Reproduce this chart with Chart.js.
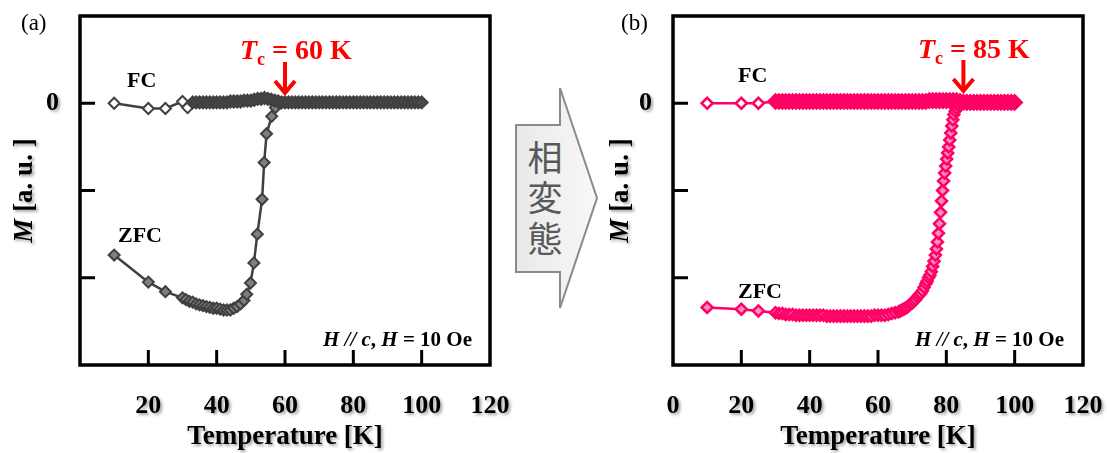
<!DOCTYPE html>
<html>
<head>
<meta charset="utf-8">
<script src="https://cdn.jsdelivr.net/npm/chart.js@4.4.1/dist/chart.umd.min.js"></script>
<style>
  html, body { margin: 0; padding: 0; background: #fff; }
  #wrap { position: relative; width: 1107px; height: 453px; overflow: hidden; background: #fff; }
  #wrap canvas { position: absolute; top: 0; }
  #ca { left: 0; }
  #cb { left: 553px; }
  #mid { position: absolute; left: 0; top: 0; }
</style>
</head>
<body>
<div id="wrap">
  <svg id="mid" width="1107" height="453" xmlns="http://www.w3.org/2000/svg">
    <defs>
      <linearGradient id="arrowFill" x1="0" y1="0" x2="1" y2="0">
        <stop offset="0" stop-color="#e9e9e9"/>
        <stop offset="1" stop-color="#f8f8f8"/>
      </linearGradient>
    </defs>
    <polygon points="516,125 560,125 560,88 597,198 560,308 560,272 516,272"
             fill="url(#arrowFill)" stroke="#8a8a8a" stroke-width="2"/>
    <g font-family="'Noto Sans CJK JP', 'Noto Sans CJK SC', sans-serif" font-size="35" fill="#595959"
       text-anchor="middle" dominant-baseline="central">
      <text x="545" y="155">相</text>
      <text x="545" y="195">変</text>
      <text x="545" y="236">態</text>
    </g>
  </svg>
  <canvas id="ca" width="553" height="453"></canvas>
  <canvas id="cb" width="554" height="453"></canvas>
</div>
<script>
// ---- Panel (a): temperatures [K] and magnetisation [a. u.] ----
const tempFcA = [10, 20, 25, 30, 31.5, 33, 34, 35, 36, 37, 38, 39, 40, 41, 42, 43, 44, 45, 46, 47,
  48, 49, 50, 51, 52, 53, 54, 55, 56, 57, 58, 59, 60, 61, 62, 63, 64, 65, 66, 67, 68, 69, 70,
  71, 72, 73, 74, 75, 76, 77, 78, 79, 80, 81, 82, 83, 84, 85, 86, 87, 88, 89, 90, 91, 92, 93,
  94, 95, 96, 97, 98, 99, 100];
const magFcA = [0.00, -0.06, -0.06, 0.02, -0.05, 0.01, 0.01, 0.01, 0.01, 0.01, 0.01, 0.01, 0.01, 0.01, 0.01, 0.01, 0.02, 0.02, 0.02, 0.02,
  0.03, 0.03, 0.03, 0.04, 0.05, 0.05, 0.06, 0.05, 0.04, 0.03, 0.02, 0.01, 0.01, 0.01, 0.01, 0.01, 0.01, 0.01, 0.01, 0.01, 0.01, 0.01, 0.01,
  0.01, 0.01, 0.01, 0.01, 0.01, 0.01, 0.01, 0.01, 0.01, 0.01, 0.01, 0.01, 0.01, 0.01, 0.01, 0.01, 0.01, 0.01, 0.01, 0.01, 0.01, 0.01, 0.01,
  0.01, 0.01, 0.01, 0.01, 0.01, 0.01, 0.01];
const tempZfcA = [10, 20, 25, 30, 31, 32, 33, 34, 35, 36, 37, 38, 39, 40, 41, 42, 43, 44, 45, 46, 47, 48,
  48.8, 49.9, 50.9, 51.9, 53.3, 53.9, 54.6, 56.1, 57.2, 58.5, 60];
const magZfcA = [-1.74, -2.05, -2.16, -2.23, -2.25, -2.27, -2.28, -2.30, -2.31, -2.32, -2.33, -2.34, -2.35, -2.35, -2.36, -2.37, -2.37, -2.37, -2.35, -2.33, -2.30, -2.26,
  -2.19, -2.06, -1.83, -1.50, -1.10, -0.68, -0.35, -0.15, -0.05, 0.00, 0.01];
const hollowFcA = 5;      // first FC points drawn with open markers
const tcA = 60;

// ---- Panel (b) ----
const tempFcB = [10, 20, 25, 30, 31, 32, 33, 34, 35, 36, 37, 38, 39, 40, 41, 42, 43, 44, 45, 46, 47, 48, 49, 50,
  51, 52, 53, 54, 55, 56, 57, 58, 59, 60, 61, 62, 63, 64, 65, 66, 67, 68, 69, 70, 71, 72, 73, 74, 75,
  76, 77, 78, 79, 80, 81, 82, 83, 84, 85, 86, 87, 88, 89, 90, 91, 92, 93, 94, 95, 96, 97, 98, 99, 100];
const magFcB = [0.00, 0.00, 0.00, 0.02, 0.02, 0.02, 0.02, 0.02, 0.02, 0.02, 0.02, 0.02, 0.02, 0.02, 0.02, 0.02, 0.02, 0.02, 0.02, 0.02, 0.02, 0.02, 0.02, 0.02,
  0.02, 0.02, 0.02, 0.02, 0.02, 0.02, 0.02, 0.02, 0.02, 0.02, 0.02, 0.02, 0.02, 0.02, 0.02, 0.02, 0.02, 0.02, 0.02, 0.02, 0.02, 0.02, 0.02, 0.02, 0.03,
  0.03, 0.03, 0.03, 0.03, 0.03, 0.03, 0.03, 0.03, 0.02, 0.01, 0.01, 0.01, 0.01, 0.01, 0.01, 0.01, 0.01, 0.01, 0.01, 0.01, 0.01, 0.01, 0.01, 0.01, 0.01];
const tempZfcB = [10, 20, 25, 30, 31, 32, 33, 34, 35, 36, 37, 38, 39, 40, 41, 42, 43, 44, 45, 46, 47, 48, 49, 50,
  51, 52, 53, 54, 55, 56, 57, 58, 59, 60, 61, 62, 63, 64, 65,
  66, 66.5, 67, 67.5, 68, 68.5, 69, 69.5, 70, 70.5, 71, 71.5, 72, 72.5, 73, 73.5,
  74.0, 74.4, 74.8, 75.2, 75.6, 76.0, 76.4, 76.8, 77.1, 77.4, 77.7, 78.0, 78.3, 78.6, 78.9, 79.2, 79.5, 79.8,
  80.1, 80.4, 80.7, 81.0, 81.3, 81.6, 81.9, 82.2, 82.6, 83.0, 83.5, 84.0, 85, 86];
const magZfcB = [-2.34, -2.36, -2.38, -2.40, -2.41, -2.41, -2.42, -2.42, -2.42, -2.43, -2.43, -2.43, -2.43, -2.43, -2.43, -2.43, -2.43, -2.43, -2.44, -2.44, -2.44, -2.44, -2.44, -2.44,
  -2.44, -2.44, -2.44, -2.44, -2.44, -2.44, -2.44, -2.44, -2.43, -2.43, -2.43, -2.43, -2.42, -2.41, -2.40,
  -2.39, -2.38, -2.37, -2.36, -2.35, -2.34, -2.32, -2.30, -2.29, -2.27, -2.25, -2.22, -2.20, -2.18, -2.15, -2.11,
  -2.07, -2.04, -2.00, -1.97, -1.93, -1.87, -1.81, -1.74, -1.67, -1.59, -1.49, -1.38, -1.25, -1.12, -1.00, -0.89, -0.80, -0.72,
  -0.64, -0.57, -0.50, -0.42, -0.34, -0.26, -0.19, -0.13, -0.09, -0.06, -0.03, -0.01, 0.00, 0.00];
const hollowFcB = 3;
const tcB = 85;

// ---- shared axis ticks ----
const xTickValues = [0, 20, 40, 60, 80, 100, 120];
const yTickValues = [1, 0, -1, -2, -3];

const SERIF = '"Liberation Serif", "Times New Roman", serif';

function pairs(xs, ys) { return xs.map((t, i) => ({ x: t, y: ys[i] })); }

// Draws a line of text made of differently styled pieces.
function drawRuns(ctx, x, y, parts, align) {
  let w = 0;
  parts.forEach(p => { ctx.font = p[1]; w += ctx.measureText(p[0]).width; });
  let cx = align === 'right' ? x - w : (align === 'center' ? x - w / 2 : x);
  ctx.textAlign = 'left';
  ctx.textBaseline = 'alphabetic';
  parts.forEach(p => {
    ctx.font = p[1];
    ctx.fillText(p[0], cx, y + (p[2] || 0));
    cx += ctx.measureText(p[0]).width;
  });
}

const decorPlugin = {
  id: 'panelDecor',
  beforeDraw(chart) {
    const c = chart.ctx;
    c.save();
    c.shadowColor = 'rgba(0,0,0,0.35)';
    c.shadowBlur = 3;
    c.shadowOffsetX = 2;
    c.shadowOffsetY = 2;
  },
  beforeDatasetsDraw(chart) {
    const c = chart.ctx, a = chart.chartArea, o = chart.options.plugins.panelDecor;
    // y-axis title (still inside the shadowed state)
    c.save();
    c.fillStyle = '#000';
    c.translate(o.titleX, (a.top + a.bottom) / 2);
    c.rotate(-Math.PI / 2);
    drawRuns(c, 0, 9, [['M', 'italic bold 27px ' + SERIF], [' [a. u. ]', 'bold 27px ' + SERIF]], 'center');
    c.restore();
    c.restore();
  },
  afterDraw(chart) {
    const c = chart.ctx, a = chart.chartArea, o = chart.options.plugins.panelDecor;
    const xs = chart.scales.x, ys = chart.scales.y;
    c.save();
    // frame
    c.strokeStyle = '#000';
    c.lineWidth = 3.5;
    c.strokeRect(a.left, a.top, a.right - a.left, a.bottom - a.top);
    // inward tick marks
    c.lineWidth = 3;
    c.beginPath();
    xs.ticks.forEach(t => {
      if (t.value > xs.min && t.value < xs.max) {
        const px = xs.getPixelForValue(t.value);
        c.moveTo(px, a.bottom); c.lineTo(px, a.bottom - 15);
      }
    });
    ys.ticks.forEach(t => {
      if (t.value > ys.min && t.value < ys.max) {
        const py = ys.getPixelForValue(t.value);
        c.moveTo(a.left, py); c.lineTo(a.left + 15, py);
      }
    });
    c.stroke();

    // panel tag
    c.fillStyle = '#000';
    drawRuns(c, o.tagX, 30, [[o.tag, '23px ' + SERIF]], 'left');
    // curve labels
    drawRuns(c, o.fcX, o.fcY, [['FC', 'bold 22px ' + SERIF]], 'left');
    drawRuns(c, o.zfcX, o.zfcY, [['ZFC', 'bold 22px ' + SERIF]], 'left');
    // field condition
    drawRuns(c, o.hX, o.hY, [
      ['H', 'italic bold 21px ' + SERIF],
      [' // ', 'italic bold 21px ' + SERIF],
      ['c', 'italic bold 21px ' + SERIF],
      [', ', 'bold 21px ' + SERIF],
      ['H', 'italic bold 21px ' + SERIF],
      [' = 10 Oe', 'bold 21px ' + SERIF]
    ], 'right');

    // transition temperature marker
    c.fillStyle = '#ff0000';
    drawRuns(c, o.tcTextX, o.tcY, [
      ['T', 'italic bold 28px ' + SERIF],
      ['c', 'bold 18px ' + SERIF, 6],
      [' = ' + o.tc + ' K', 'bold 28px ' + SERIF]
    ], 'left');
    const ax = xs.getPixelForValue(o.tc);
    c.strokeStyle = '#ff0000';
    c.lineWidth = 4;
    c.lineJoin = 'miter';
    c.beginPath();
    c.moveTo(ax, o.arrowTop); c.lineTo(ax, o.arrowTip - 3);
    c.stroke();
    c.beginPath();
    c.moveTo(ax - 10, o.arrowTip - 14); c.lineTo(ax, o.arrowTip - 2); c.lineTo(ax + 10, o.arrowTip - 14);
    c.stroke();
    c.restore();
  }
};

function makePanel(canvasId, p) {
  const fcFill = p.fcT.map((_, i) => i < p.hollow ? '#ffffff' : p.fcDense);
  const fcRadius = p.fcT.map((_, i) => i < p.hollow ? p.radius : p.bandRadius);
  return new Chart(document.getElementById(canvasId), {
    type: 'scatter',
    data: {
      datasets: [
        {
          label: 'FC',
          data: pairs(p.fcT, p.fcM),
          showLine: true,
          borderColor: p.line,
          borderWidth: 2.5,
          pointStyle: 'rectRot',
          pointRadius: fcRadius,
          pointBorderWidth: p.pbw,
          pointBorderColor: p.line,
          pointBackgroundColor: fcFill,
          order: 0
        },
        {
          label: 'ZFC',
          data: pairs(p.zfcT, p.zfcM),
          showLine: true,
          borderColor: p.line,
          borderWidth: 2.5,
          pointStyle: 'rectRot',
          pointRadius: p.radius,
          pointBorderWidth: p.pbw,
          pointBorderColor: p.line,
          pointBackgroundColor: p.zfcFill,
          order: 1
        }
      ]
    },
    options: {
      responsive: false,
      animation: false,
      events: [],
      layout: { padding: { left: 0, top: 16, right: p.padRight, bottom: 0 } },
      plugins: {
        legend: { display: false },
        tooltip: { enabled: false },
        panelDecor: p.decor
      },
      scales: {
        x: {
          type: 'linear',
          min: 0, max: 120,
          afterBuildTicks(scale) { scale.ticks = xTickValues.map(v => ({ value: v })); },
          afterFit(scale) { scale.height = 88; scale.paddingLeft = 0; scale.paddingRight = 0; },
          grid: { display: false, drawTicks: false },
          border: { display: false },
          ticks: {
            autoSkip: false, maxRotation: 0, padding: 26, color: '#000',
            font: { family: SERIF, size: 26, weight: 'bold' },
            callback: v => (p.hideZero && v === 0) ? '' : String(v)
          },
          title: {
            display: true, text: 'Temperature [K]', color: '#000',
            font: { family: SERIF, size: 27, weight: 'bold' },
            padding: { top: 0, bottom: 0 }
          }
        },
        y: {
          type: 'linear',
          min: -3, max: 1,
          afterBuildTicks(scale) { scale.ticks = yTickValues.map(v => ({ value: v })); },
          afterFit(scale) { scale.width = p.yWidth; scale.paddingTop = 0; scale.paddingBottom = 0; },
          grid: { display: false, drawTicks: false },
          border: { display: false },
          ticks: {
            padding: 21, color: '#000',
            font: { family: SERIF, size: 26, weight: 'bold' },
            callback: v => v === 0 ? '0' : ''
          }
        }
      }
    },
    plugins: [decorPlugin]
  });
}

makePanel('ca', {
  fcT: tempFcA, fcM: magFcA, zfcT: tempZfcA, zfcM: magZfcA, hollow: hollowFcA,
  line: '#404040', fcDense: '#4a4a4a', zfcFill: '#7f7f7f', radius: 5.5, bandRadius: 6, pbw: 2,
  padRight: 63, yWidth: 80, hideZero: true,
  decor: { tag: '(a)', tagX: 21, titleX: 23, fcX: 127, fcY: 87, zfcX: 118, zfcY: 242,
           hX: 472, hY: 346, tc: tcA, tcTextX: 240, tcY: 59, arrowTop: 62, arrowTip: 95 }
});

makePanel('cb', {
  fcT: tempFcB, fcM: magFcB, zfcT: tempZfcB, zfcM: magZfcB, hollow: hollowFcB,
  line: '#ff0066', fcDense: '#ff0066', zfcFill: '#ff8cc0', radius: 5.5, bandRadius: 7, pbw: 2.5,
  padRight: 24, yWidth: 120, hideZero: false,
  decor: { tag: '(b)', tagX: 68, titleX: 66, fcX: 185, fcY: 82, zfcX: 185, zfcY: 298,
           hX: 511, hY: 346, tc: tcB, tcTextX: 365, tcY: 58, arrowTop: 60, arrowTip: 93 }
});
</script>
</body>
</html>
